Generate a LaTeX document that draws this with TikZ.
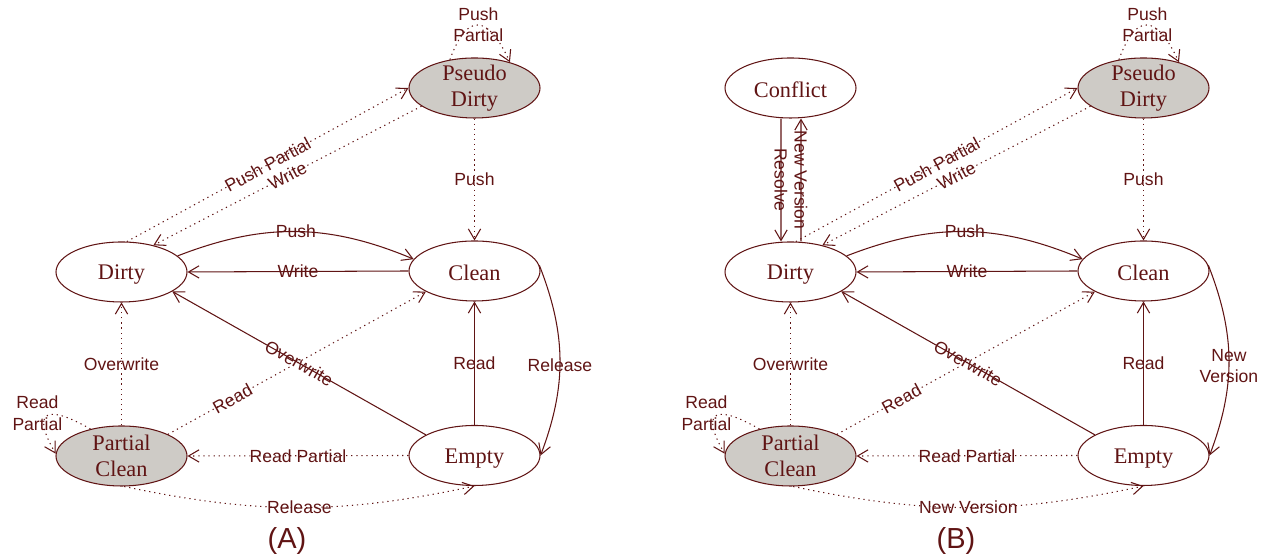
\documentclass[tikz,border=0pt]{standalone}
\usepackage{fontspec}
\setmainfont{Liberation Serif}
\setsansfont{Liberation Sans}
\usetikzlibrary{arrows.meta,shapes.geometric}

\definecolor{edgecol}{RGB}{96,20,20}
\definecolor{partfill}{RGB}{206,203,198}

\tikzset{
  state/.style={ellipse, draw=edgecol, line width=0.6pt, minimum width=2.62cm,
    minimum height=1.2cm, inner xsep=0pt, inner ysep=-4pt, align=center,
    text=edgecol, font=\fontsize{12.7}{14.8}\selectfont,
    execute at begin node=\rule{0pt}{11.5pt}},
  partstate/.style={state, fill=partfill},
  trans/.style={draw=edgecol, line width=0.6pt, -{Straight Barb[length=6pt,width=7pt]}},
  soft/.style={trans, dash pattern=on 0.7pt off 2.2pt},
  lbl/.style={font=\sffamily\fontsize{10}{12}\selectfont, text=edgecol, align=center, inner sep=1pt},
}

\begin{document}
\begin{tikzpicture}
  \useasboundingbox (0,0) rectangle (25.3,11.18);
  \foreach \p/\dx/\relR/\relB/\cap in {a/0/Release/Release/A, b/13.38/New\\Version/New Version/B}{
    \begin{scope}[xshift=\dx cm, name prefix=\p-]
      % states
      \node[state]     (dirty)  at (2.43,5.74) {Dirty};
      \node[state]     (clean)  at (9.49,5.76) {Clean};
      \node[partstate] (pdirty) at (9.49,9.42) {Pseudo\\Dirty};
      \node[partstate] (pclean) at (2.43,2.06) {Partial\\Clean};
      \node[state]     (empty)  at (9.49,2.07) {Empty};
      % full transitions
      \draw[trans] (dirty.16) to[bend left=22] node[lbl] {Push} (clean.169);
      \draw[trans] (clean.west) -- node[lbl] {Write} (dirty.east);
      \draw[trans] (clean.5) to[bend left=21] node[lbl, pos=0.53] {\relR} (empty.east);
      \draw[trans] (empty.north) -- node[lbl] {Read} (clean.south);
      \draw[trans] (empty.157) -- node[lbl, sloped] {Overwrite} (dirty.-21);
      % partial transitions
      \draw[soft] (pdirty.south) -- node[lbl] {Push} (clean.north);
      \draw[soft] (dirty.80) -- node[lbl, sloped] {Push Partial} (pdirty.west);
      \draw[soft] (pdirty.199) -- node[lbl, sloped] {Write} (dirty.40);
      \draw[soft] (pdirty.131) to[out=70, in=115, looseness=2.2] node[lbl] {Push\\Partial} (pdirty.36);
      \draw[soft] (pclean.north) -- node[lbl] {Overwrite} (dirty.south);
      \draw[soft] (pclean.25) -- node[lbl, sloped, pos=0.25] {Read} (clean.203);
      \draw[soft] (empty.west) -- node[lbl] {Read Partial} (pclean.east);
      \draw[soft] (pclean.-85) to[bend right=12] node[lbl] {\relB} (empty.south);
      \draw[soft] (pclean.139) to[out=150, in=120, looseness=3] node[lbl, xshift=-0.2cm, yshift=0.05cm] {Read\\Partial} (pclean.178);
      \node[lbl, font=\sffamily\fontsize{16.5}{18}\selectfont] (cap) at (5.74,0.36) {(\cap)};
    \end{scope}
  }
  % conflict state of (B)
  \node[state] (b-conflict) at (15.81,9.42) {Conflict};
  \draw[trans] ([xshift=-0.19cm]b-conflict.south) -- node[lbl, sloped] {Resolve} ([xshift=-0.19cm]b-dirty.north);
  \draw[trans] ([xshift=0.21cm]b-dirty.north) -- node[lbl, sloped] {New Version} ([xshift=0.21cm]b-conflict.south);
\end{tikzpicture}
\end{document}
